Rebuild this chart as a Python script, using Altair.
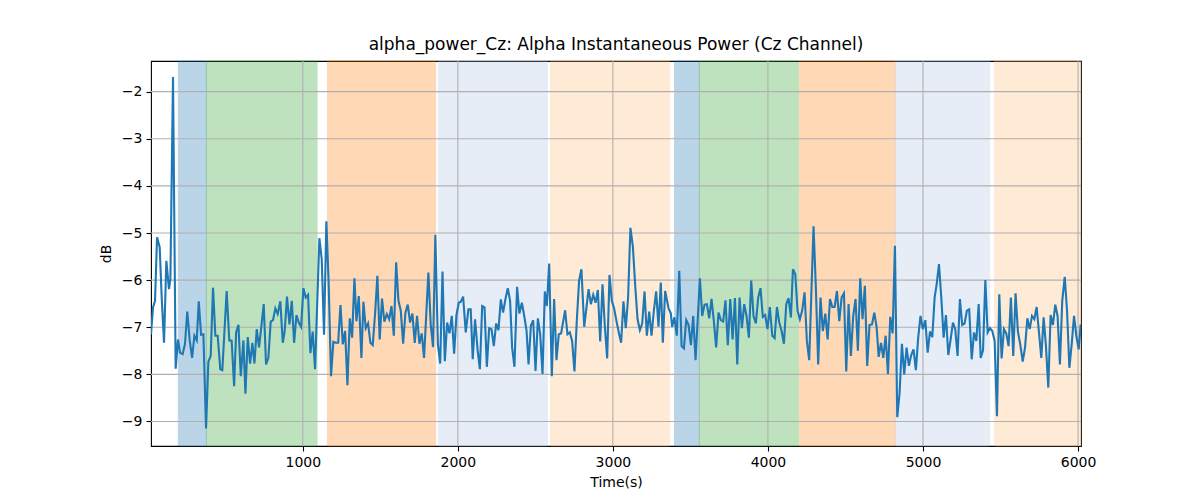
import altair as alt
import pandas as pd

# ---- data ----
time_s = [21, 34, 47, 60, 77, 90, 105, 120, 137, 146, 163, 180, 195, 208, 225, 240, 255, 271, 286, 301,
          316, 329, 344, 359, 376, 391, 406, 421, 436, 451, 468, 481, 509, 526, 541, 557, 570, 585, 600, 617,
          630, 645, 660, 675, 688, 703, 718, 748, 763, 778, 793, 808, 823, 838, 855, 871, 883, 898, 914, 929,
          944, 959, 974, 989, 1004, 1019, 1034, 1049, 1064, 1079, 1107, 1122, 1137, 1152, 1167, 1182, 1197, 1212, 1228, 1243,
          1258, 1273, 1288, 1303, 1318, 1333, 1346, 1361, 1378, 1391, 1406, 1421, 1436, 1451, 1466, 1481, 1496, 1511, 1526, 1542,
          1557, 1572, 1587, 1602, 1617, 1632, 1647, 1662, 1677, 1692, 1707, 1722, 1737, 1752, 1767, 1782, 1810, 1825, 1840, 1855,
          1871, 1886, 1901, 1916, 1931, 1946, 1961, 1976, 1991, 2006, 2019, 2034, 2051, 2068, 2083, 2096, 2111, 2127, 2142, 2157,
          2172, 2187, 2202, 2217, 2232, 2247, 2262, 2277, 2292, 2307, 2322, 2337, 2350, 2365, 2382, 2397, 2413, 2428, 2443, 2456,
          2471, 2486, 2501, 2516, 2531, 2546, 2561, 2574, 2589, 2606, 2621, 2636, 2651, 2666, 2692, 2707, 2722, 2737, 2752, 2767,
          2782, 2797, 2815, 2827, 2843, 2858, 2873, 2888, 2903, 2918, 2933, 2948, 2963, 2978, 2993, 3008, 3023, 3038, 3053, 3068,
          3083, 3098, 3113, 3129, 3144, 3159, 3174, 3189, 3204, 3219, 3234, 3249, 3264, 3279, 3294, 3309, 3322, 3337, 3359, 3374,
          3382, 3397, 3412, 3428, 3443, 3458, 3473, 3488, 3503, 3518, 3533, 3561, 3576, 3591, 3606, 3621, 3636, 3651, 3666, 3681,
          3696, 3711, 3726, 3741, 3757, 3772, 3787, 3802, 3817, 3832, 3847, 3862, 3877, 3892, 3907, 3922, 3937, 3952, 3967, 3982,
          3997, 4012, 4028, 4043, 4058, 4073, 4088, 4103, 4118, 4133, 4148, 4161, 4176, 4191, 4206, 4221, 4236, 4251, 4266, 4294,
          4309, 4324, 4339, 4354, 4370, 4385, 4400, 4415, 4430, 4445, 4460, 4475, 4490, 4505, 4520, 4535, 4550, 4565, 4580, 4595,
          4610, 4625, 4640, 4655, 4671, 4686, 4701, 4714, 4729, 4744, 4759, 4774, 4789, 4804, 4819, 4834, 4849, 4864, 4879, 4894,
          4909, 4924, 4939, 4954, 4969, 4984, 4999, 5015, 5030, 5045, 5060, 5075, 5088, 5103, 5118, 5133, 5148, 5163, 5178, 5193,
          5208, 5223, 5238, 5253, 5268, 5283, 5298, 5314, 5329, 5344, 5359, 5372, 5387, 5402, 5417, 5432, 5447, 5462, 5477, 5492,
          5507, 5522, 5537, 5552, 5567, 5582, 5597, 5612, 5628, 5643, 5658, 5673, 5688, 5703, 5718, 5733, 5748, 5763, 5778, 5793,
          5808, 5823, 5838, 5853, 5868, 5883, 5898, 5914, 5929, 5944, 5959, 5974, 5989, 6004, 6017]

alpha_db = [-7.15, -6.58, -6.44, -5.09, -5.30, -6.37, -7.33, -5.59, -6.19, -5.98, -1.69, -7.88, -7.26, -7.54, -7.57, -7.36, -6.67, -7.29, -7.65, -7.18,
            -7.28, -6.45, -7.16, -7.15, -9.15, -7.73, -7.61, -6.16, -7.18, -7.18, -7.89, -7.91, -6.23, -7.28, -7.28, -8.25, -7.11, -6.95, -8.04, -7.28,
            -8.41, -7.21, -7.77, -7.33, -7.77, -7.04, -7.43, -6.51, -7.79, -7.65, -6.88, -6.85, -6.60, -6.72, -6.45, -7.33, -7.09, -6.35, -6.94, -6.44,
            -7.33, -6.74, -6.90, -6.99, -6.17, -6.37, -6.31, -7.55, -7.09, -7.89, -5.11, -5.55, -7.16, -4.75, -6.09, -8.04, -7.31, -7.33, -7.33, -6.53,
            -7.36, -7.08, -8.23, -6.81, -7.22, -5.96, -6.87, -6.34, -7.65, -6.46, -7.02, -6.92, -7.33, -7.38, -6.72, -5.91, -7.26, -6.39, -6.88, -6.72,
            -6.83, -6.55, -7.18, -5.62, -6.44, -6.65, -7.35, -6.69, -6.52, -6.90, -6.71, -7.33, -6.76, -7.35, -7.13, -7.65, -5.84, -6.94, -7.42, -5.04,
            -7.36, -7.77, -5.82, -7.72, -6.90, -7.13, -6.76, -7.56, -6.74, -6.48, -6.46, -6.35, -7.11, -6.62, -6.62, -7.68, -6.83, -7.47, -7.89, -6.55,
            -6.58, -7.84, -7.02, -7.04, -7.40, -6.92, -7.06, -6.41, -6.69, -6.40, -6.17, -6.44, -7.43, -7.84, -6.14, -6.71, -6.48, -6.76, -7.07, -7.79,
            -6.97, -6.85, -7.93, -6.81, -7.15, -7.99, -6.24, -6.55, -5.65, -8.04, -6.40, -7.70, -7.15, -7.13, -6.64, -7.15, -7.11, -7.29, -7.94, -6.87,
            -6.01, -5.77, -6.99, -6.65, -6.19, -6.51, -6.31, -6.48, -6.21, -7.30, -6.09, -6.97, -7.66, -5.89, -6.44, -6.60, -6.87, -7.11, -7.33, -6.45,
            -7.02, -6.37, -4.89, -5.30, -6.12, -6.83, -7.06, -6.92, -6.24, -7.18, -6.67, -7.18, -6.65, -6.24, -6.99, -6.05, -7.33, -6.23, -6.60, -6.71,
            -6.99, -6.79, -7.18, -5.80, -7.40, -7.45, -6.85, -6.95, -7.38, -6.76, -7.70, -5.96, -6.76, -6.52, -6.51, -6.81, -6.40, -6.87, -7.43, -6.69,
            -6.85, -6.88, -6.43, -7.38, -6.40, -7.26, -6.38, -7.79, -6.37, -7.02, -6.51, -6.76, -7.22, -6.01, -6.76, -6.92, -6.37, -6.17, -6.78, -6.74,
            -7.04, -6.57, -7.18, -7.23, -6.57, -6.90, -7.08, -7.35, -6.51, -6.38, -6.79, -5.77, -5.87, -6.65, -6.83, -6.64, -6.26, -7.29, -7.70, -4.86,
            -6.16, -7.79, -6.37, -7.08, -6.71, -7.26, -6.40, -6.57, -6.57, -6.23, -6.87, -6.37, -6.28, -7.94, -6.51, -7.61, -6.76, -6.40, -7.50, -5.96,
            -6.83, -6.12, -7.82, -6.95, -6.94, -6.69, -7.00, -7.63, -7.33, -7.65, -7.18, -7.99, -6.78, -7.13, -5.27, -8.91, -8.39, -7.35, -8.00, -7.43,
            -7.82, -7.59, -7.47, -7.91, -7.22, -6.76, -7.04, -6.85, -7.54, -7.09, -7.21, -6.37, -6.09, -5.66, -6.37, -7.22, -6.74, -7.59, -7.26, -6.90,
            -7.04, -7.61, -6.40, -6.95, -6.92, -6.65, -6.62, -7.68, -7.11, -7.29, -6.51, -7.65, -7.49, -6.00, -7.11, -7.02, -7.08, -7.29, -8.89, -6.30,
            -7.66, -7.04, -7.13, -7.40, -6.37, -7.61, -6.28, -7.09, -7.38, -7.73, -7.43, -6.81, -7.04, -6.76, -6.83, -6.57, -7.11, -7.65, -6.79, -7.40,
            -8.28, -6.74, -6.95, -6.52, -6.76, -7.79, -6.44, -5.93, -6.65, -7.86, -7.36, -6.76, -7.18, -7.47, -6.94]

span_start = [197, 378, 1159, 1875, 2598, 3397, 3557, 4204, 4825, 5462]
span_end = [378, 1092, 1857, 2578, 3366, 3557, 4197, 4821, 5430, 6019]
span_kind = ["a", "b", "c", "d", "e", "a", "b", "c", "d", "e"]
kind_colors = ["#1f77b4", "#2ca02c", "#ff7f0e", "#aec7e8", "#ffbb78"]

x_ticks = [1000, 2000, 3000, 4000, 5000, 6000]
y_ticks = [-9, -8, -7, -6, -5, -4, -3, -2]

x_domain = [21, 6019]
y_domain = [-9.52, -1.35]

series = pd.DataFrame({"t": time_s, "v": alpha_db})
spans = pd.DataFrame({"s": span_start, "e": span_end, "k": span_kind})
xgrid = pd.DataFrame({"t": x_ticks})
ygrid = pd.DataFrame({"v": y_ticks})

xscale = alt.Scale(domain=x_domain, nice=False, zero=False)
yscale = alt.Scale(domain=y_domain, nice=False, zero=False)
kscale = alt.Scale(domain=["a", "b", "c", "d", "e"], range=kind_colors)

span_layer = alt.Chart(spans).mark_rect(opacity=0.3, strokeWidth=1).encode(
    x=alt.X("s:Q", scale=xscale),
    x2="e:Q",
    fill=alt.Fill("k:N", scale=kscale, legend=None),
    stroke=alt.Stroke("k:N", scale=kscale, legend=None),
)

xgrid_layer = alt.Chart(xgrid).mark_rule(color="#b0b0b0", strokeWidth=1.1).encode(
    x=alt.X("t:Q", scale=xscale)
)
ygrid_layer = alt.Chart(ygrid).mark_rule(color="#b0b0b0", strokeWidth=1.1).encode(
    y=alt.Y("v:Q", scale=yscale)
)

line_layer = alt.Chart(series).mark_line(color="#1f77b4", strokeWidth=2.1, clip=True).encode(
    x=alt.X("t:Q", scale=xscale,
            axis=alt.Axis(values=x_ticks, title="Time(s)", grid=False, format="d")),
    y=alt.Y("v:Q", scale=yscale,
            axis=alt.Axis(values=y_ticks, title="dB", grid=False, format="d")),
)

chart = alt.layer(span_layer, xgrid_layer, ygrid_layer, line_layer).properties(
    width=930,
    height=385,
    autosize=alt.AutoSizeParams(type="none"),
    padding={"left": 143, "top": 53, "right": 110, "bottom": 45},
    title=alt.TitleParams(
        "alpha_power_Cz: Alpha Instantaneous Power (Cz Channel)",
        font="DejaVu Sans", fontSize=17, fontWeight="normal", color="black",
        anchor="middle", offset=6,
    ),
).configure_view(
    stroke="black", strokeWidth=1.1
).configure_axis(
    labelFont="DejaVu Sans", labelFontSize=14, labelColor="black",
    titleFont="DejaVu Sans", titleFontSize=14, titleFontWeight="normal", titleColor="black",
    tickColor="black", tickSize=5, tickWidth=1.1, domain=False, labelPadding=4,
).configure_axisX(
    titlePadding=6
).configure_axisY(
    titlePadding=8
)

chart.save("out.html", embed_options={"renderer": "svg", "actions": False})
